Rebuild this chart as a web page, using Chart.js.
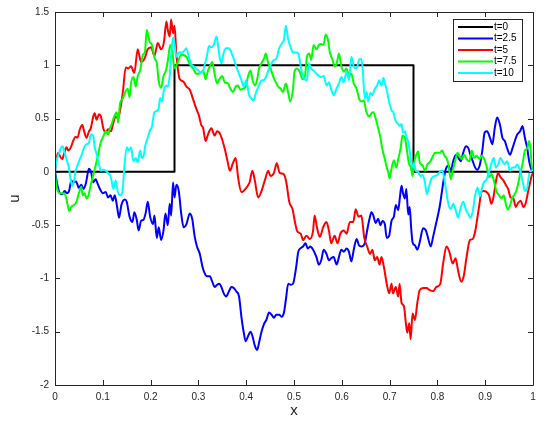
<!DOCTYPE html>
<html><head><meta charset="utf-8">
<script src="https://cdn.jsdelivr.net/npm/chart.js@4.4.1/dist/chart.umd.min.js"></script>
<style>html,body{margin:0;padding:0;background:#fff;}#c{display:block;}</style>
</head><body>
<canvas id="c" width="546" height="426"></canvas>
<script>
// ---- data (x, u) ----
const seriesLabels = ['t=0','t=2.5','t=5','t=7.5','t=10'];
const xTickValues = [0,0.1,0.2,0.3,0.4,0.5,0.6,0.7,0.8,0.9,1];
const yTickValues = [-2,-1.5,-1,-0.5,0,0.5,1,1.5];

const uT0 = [[0,0],[0.25,0],[0.25,1],[0.75,1],[0.75,0],[1,0]];

const uT25 = [[0,0],[0.004,-0.1],[0.009,-0.19],[0.015,-0.21],[0.02,-0.18],[0.025,-0.2],[0.03,-0.17],[0.034,-0.08],[0.038,-0.1],[0.044,-0.09],[0.05,-0.15],[0.055,-0.12],[0.06,-0.16],[0.065,-0.1],[0.071,0.03],[0.076,-0.01],[0.08,-0.1],[0.085,-0.07],[0.09,-0.12],[0.095,-0.17],[0.1,-0.2],[0.106,-0.19],[0.111,-0.24],[0.116,-0.22],[0.121,-0.27],[0.125,-0.22],[0.13,-0.33],[0.134,-0.43],[0.139,-0.31],[0.146,-0.26],[0.15,-0.28],[0.156,-0.42],[0.162,-0.47],[0.166,-0.38],[0.171,-0.45],[0.175,-0.55],[0.18,-0.46],[0.185,-0.45],[0.19,-0.38],[0.194,-0.28],[0.199,-0.42],[0.205,-0.49],[0.208,-0.41],[0.213,-0.62],[0.217,-0.52],[0.222,-0.64],[0.227,-0.55],[0.231,-0.39],[0.236,-0.5],[0.24,-0.3],[0.243,-0.41],[0.247,-0.1],[0.25,-0.24],[0.254,-0.12],[0.259,-0.18],[0.264,-0.39],[0.269,-0.52],[0.275,-0.49],[0.282,-0.39],[0.287,-0.44],[0.292,-0.6],[0.297,-0.7],[0.303,-0.77],[0.308,-0.88],[0.313,-0.95],[0.318,-0.98],[0.324,-0.98],[0.329,-1.03],[0.334,-1.08],[0.339,-1.06],[0.344,-1.05],[0.348,-1.08],[0.353,-1.14],[0.358,-1.17],[0.364,-1.12],[0.369,-1.08],[0.374,-1.09],[0.379,-1.12],[0.385,-1.17],[0.39,-1.36],[0.395,-1.51],[0.399,-1.59],[0.404,-1.54],[0.409,-1.5],[0.413,-1.54],[0.418,-1.63],[0.423,-1.67],[0.427,-1.6],[0.432,-1.5],[0.437,-1.43],[0.442,-1.39],[0.448,-1.32],[0.453,-1.34],[0.458,-1.37],[0.463,-1.34],[0.469,-1.34],[0.474,-1.36],[0.479,-1.32],[0.483,-1.2],[0.488,-1.05],[0.493,-1.06],[0.498,-1.05],[0.504,-0.91],[0.509,-0.75],[0.513,-0.72],[0.519,-0.7],[0.524,-0.67],[0.529,-0.72],[0.534,-0.7],[0.54,-0.73],[0.547,-0.8],[0.552,-0.87],[0.557,-0.83],[0.562,-0.73],[0.568,-0.77],[0.573,-0.83],[0.578,-0.81],[0.583,-0.8],[0.589,-0.87],[0.594,-0.8],[0.599,-0.73],[0.604,-0.75],[0.61,-0.72],[0.615,-0.75],[0.62,-0.84],[0.625,-0.73],[0.631,-0.63],[0.636,-0.69],[0.641,-0.7],[0.648,-0.67],[0.653,-0.55],[0.658,-0.44],[0.662,-0.38],[0.666,-0.41],[0.671,-0.48],[0.676,-0.44],[0.681,-0.5],[0.685,-0.46],[0.69,-0.49],[0.694,-0.62],[0.699,-0.6],[0.704,-0.46],[0.709,-0.42],[0.713,-0.31],[0.718,-0.36],[0.722,-0.22],[0.725,-0.13],[0.728,-0.2],[0.732,-0.25],[0.735,-0.16],[0.739,-0.4],[0.742,-0.33],[0.745,-0.52],[0.748,-0.66],[0.753,-0.69],[0.758,-0.73],[0.763,-0.66],[0.77,-0.53],[0.776,-0.55],[0.781,-0.63],[0.786,-0.7],[0.791,-0.61],[0.797,-0.49],[0.801,-0.41],[0.805,-0.32],[0.809,-0.2],[0.814,-0.05],[0.818,0.03],[0.823,0.06],[0.828,0.01],[0.833,0.1],[0.839,0.16],[0.844,0.13],[0.849,0.1],[0.854,0.18],[0.86,0.24],[0.865,0.22],[0.869,0.16],[0.874,0.1],[0.879,0.04],[0.883,0.02],[0.889,0.07],[0.894,0.2],[0.899,0.37],[0.904,0.38],[0.91,0.32],[0.915,0.26],[0.92,0.41],[0.925,0.51],[0.931,0.44],[0.936,0.32],[0.941,0.29],[0.946,0.22],[0.952,0.16],[0.957,0.22],[0.962,0.29],[0.967,0.35],[0.973,0.38],[0.978,0.43],[0.983,0.32],[0.988,0.22],[0.992,0.1],[0.997,0.02],[1,0.01]];

const uT5 = [[0,0],[0.003,0.12],[0.007,0.18],[0.01,0.15],[0.015,0.12],[0.019,0.17],[0.024,0.23],[0.028,0.2],[0.033,0.23],[0.038,0.29],[0.043,0.33],[0.047,0.32],[0.052,0.4],[0.057,0.44],[0.061,0.38],[0.066,0.32],[0.071,0.38],[0.075,0.41],[0.08,0.52],[0.083,0.55],[0.087,0.49],[0.092,0.54],[0.096,0.52],[0.101,0.41],[0.106,0.37],[0.111,0.4],[0.117,0.38],[0.122,0.46],[0.127,0.52],[0.132,0.5],[0.137,0.6],[0.142,0.75],[0.148,0.98],[0.153,0.97],[0.159,0.99],[0.166,0.93],[0.173,1.15],[0.18,1.03],[0.187,1.06],[0.194,1.15],[0.201,1.17],[0.208,1.09],[0.215,1.21],[0.222,1.15],[0.228,1.22],[0.233,1.41],[0.236,1.33],[0.24,1.27],[0.243,1.43],[0.247,1.3],[0.25,1.37],[0.254,1.1],[0.261,0.87],[0.268,0.85],[0.275,0.8],[0.282,0.77],[0.289,0.68],[0.295,0.6],[0.301,0.53],[0.306,0.44],[0.31,0.41],[0.315,0.29],[0.32,0.35],[0.327,0.41],[0.334,0.34],[0.339,0.38],[0.346,0.35],[0.355,0.22],[0.36,0.12],[0.366,0.01],[0.372,0.08],[0.378,0.13],[0.383,-0.05],[0.39,-0.19],[0.4,-0.15],[0.407,-0.1],[0.413,0.01],[0.418,-0.08],[0.425,-0.24],[0.432,-0.18],[0.439,-0.08],[0.446,0.01],[0.451,-0.04],[0.458,-0.01],[0.464,0.08],[0.47,-0.01],[0.478,-0.02],[0.484,-0.1],[0.49,-0.28],[0.497,-0.35],[0.502,-0.47],[0.507,-0.56],[0.514,-0.58],[0.519,-0.64],[0.526,-0.6],[0.533,-0.63],[0.54,-0.55],[0.543,-0.41],[0.548,-0.52],[0.554,-0.61],[0.561,-0.52],[0.568,-0.47],[0.573,-0.55],[0.578,-0.67],[0.585,-0.6],[0.591,-0.67],[0.597,-0.58],[0.604,-0.55],[0.61,-0.58],[0.617,-0.47],[0.624,-0.47],[0.629,-0.35],[0.635,-0.42],[0.641,-0.41],[0.647,-0.62],[0.653,-0.7],[0.659,-0.77],[0.664,-0.73],[0.669,-0.83],[0.674,-0.8],[0.679,-0.87],[0.683,-0.8],[0.688,-0.89],[0.694,-1.05],[0.699,-1.14],[0.704,-1.05],[0.707,-1.14],[0.713,-1.08],[0.718,-1.17],[0.721,-1.05],[0.725,-1.23],[0.73,-1.26],[0.734,-1.42],[0.737,-1.51],[0.741,-1.42],[0.744,-1.57],[0.748,-1.33],[0.753,-1.39],[0.758,-1.23],[0.763,-1.11],[0.77,-1.09],[0.777,-1.09],[0.784,-1.11],[0.791,-1.12],[0.798,-1.08],[0.806,-1.05],[0.812,-0.86],[0.819,-0.7],[0.825,-0.75],[0.832,-0.86],[0.838,-0.81],[0.843,-0.92],[0.85,-1.03],[0.855,-0.98],[0.861,-0.8],[0.868,-0.64],[0.874,-0.63],[0.879,-0.56],[0.883,-0.45],[0.889,-0.27],[0.892,-0.19],[0.897,-0.18],[0.903,-0.19],[0.908,-0.22],[0.913,-0.3],[0.918,-0.22],[0.922,-0.1],[0.927,-0.01],[0.932,-0.05],[0.938,-0.08],[0.944,-0.13],[0.948,-0.16],[0.953,-0.24],[0.959,-0.25],[0.964,-0.33],[0.969,-0.29],[0.974,-0.27],[0.98,-0.33],[0.985,-0.29],[0.99,-0.18],[0.994,-0.1],[0.997,-0.04],[1,-0.01]];

const uT75 = [[0,0],[0.003,-0.13],[0.006,-0.18],[0.011,-0.2],[0.017,-0.2],[0.022,-0.22],[0.026,-0.3],[0.03,-0.37],[0.034,-0.33],[0.04,-0.31],[0.045,-0.28],[0.05,-0.2],[0.055,-0.14],[0.058,-0.22],[0.062,-0.2],[0.066,-0.25],[0.07,-0.22],[0.075,-0.12],[0.08,-0.03],[0.085,0.06],[0.09,0.16],[0.096,0.28],[0.101,0.33],[0.106,0.38],[0.111,0.35],[0.115,0.41],[0.118,0.44],[0.124,0.52],[0.129,0.56],[0.132,0.46],[0.136,0.64],[0.142,0.69],[0.148,0.76],[0.152,0.78],[0.156,0.7],[0.159,0.83],[0.164,0.89],[0.169,0.8],[0.173,0.9],[0.178,0.95],[0.184,1.1],[0.188,1.12],[0.192,1.33],[0.198,1.22],[0.203,1.19],[0.208,1.07],[0.213,1.02],[0.217,0.85],[0.222,0.79],[0.227,0.9],[0.232,0.95],[0.236,1.04],[0.241,1.19],[0.245,1.14],[0.25,0.97],[0.257,1.03],[0.264,1.1],[0.275,1.08],[0.282,1.01],[0.289,0.97],[0.296,0.92],[0.302,0.92],[0.31,0.95],[0.315,0.87],[0.32,0.95],[0.325,1.0],[0.329,1.03],[0.334,0.92],[0.339,0.83],[0.344,0.87],[0.35,0.9],[0.355,0.84],[0.362,0.83],[0.367,0.78],[0.372,0.75],[0.378,0.8],[0.383,0.81],[0.388,0.77],[0.393,0.78],[0.399,0.8],[0.404,0.9],[0.409,0.95],[0.413,0.87],[0.418,0.81],[0.423,0.87],[0.427,0.97],[0.432,1.02],[0.437,1.06],[0.441,1.11],[0.446,1.02],[0.451,0.97],[0.456,0.9],[0.462,0.84],[0.467,0.8],[0.472,0.78],[0.477,0.75],[0.483,0.83],[0.488,0.74],[0.492,0.66],[0.498,0.78],[0.501,0.94],[0.506,0.97],[0.512,0.94],[0.518,0.87],[0.523,0.9],[0.527,1.08],[0.532,1.11],[0.536,1.05],[0.541,1.19],[0.547,1.15],[0.552,1.19],[0.557,1.2],[0.562,1.19],[0.566,1.29],[0.571,1.24],[0.575,1.12],[0.58,1.06],[0.585,0.99],[0.59,1.03],[0.594,1.11],[0.599,0.99],[0.604,0.94],[0.61,0.97],[0.615,0.9],[0.62,0.92],[0.625,0.83],[0.631,0.78],[0.636,0.69],[0.641,0.66],[0.646,0.67],[0.651,0.57],[0.657,0.52],[0.662,0.55],[0.666,0.56],[0.671,0.5],[0.676,0.41],[0.68,0.34],[0.685,0.21],[0.69,0.12],[0.694,0.04],[0.697,0.0],[0.7,-0.06],[0.704,0.03],[0.709,0.11],[0.714,0.04],[0.718,0.12],[0.723,0.22],[0.727,0.34],[0.732,0.32],[0.735,0.24],[0.741,0.07],[0.744,0.05],[0.748,-0.04],[0.751,0.08],[0.755,0.15],[0.76,0.19],[0.763,0.09],[0.769,0.06],[0.774,0.01],[0.779,0.07],[0.784,0.09],[0.79,0.14],[0.795,0.18],[0.8,0.18],[0.805,0.18],[0.81,0.2],[0.815,0.15],[0.82,0.12],[0.823,0.07],[0.828,-0.07],[0.832,0.01],[0.837,0.1],[0.842,0.18],[0.846,0.15],[0.851,0.12],[0.856,0.16],[0.861,0.12],[0.867,0.1],[0.872,0.2],[0.877,0.13],[0.882,0.15],[0.888,0.12],[0.893,0.15],[0.897,0.13],[0.903,0.05],[0.908,-0.05],[0.913,-0.02],[0.918,-0.08],[0.924,-0.19],[0.929,-0.22],[0.934,-0.25],[0.939,-0.22],[0.944,-0.32],[0.948,-0.35],[0.953,-0.3],[0.957,-0.24],[0.962,-0.21],[0.967,-0.15],[0.973,-0.02],[0.978,0.07],[0.983,0.2],[0.988,0.22],[0.992,0.29],[0.995,0.2],[0.997,0.07],[1,0.01]];

const uT10 = [[0,0],[0.003,0.1],[0.008,0.17],[0.013,0.23],[0.016,0.24],[0.019,0.2],[0.024,0.12],[0.029,0.04],[0.033,-0.08],[0.036,-0.13],[0.04,-0.08],[0.043,0.01],[0.047,0.06],[0.052,0.12],[0.055,0.15],[0.061,0.23],[0.066,0.26],[0.071,0.27],[0.075,0.35],[0.08,0.34],[0.083,0.23],[0.087,0.17],[0.092,0.07],[0.096,0.01],[0.101,0.02],[0.106,0.01],[0.111,-0.01],[0.117,-0.05],[0.122,-0.16],[0.127,-0.08],[0.131,-0.18],[0.136,-0.22],[0.141,-0.19],[0.145,0.04],[0.15,0.23],[0.155,0.2],[0.159,0.23],[0.164,0.1],[0.169,0.13],[0.173,0.09],[0.178,0.2],[0.182,0.13],[0.186,0.16],[0.189,0.25],[0.194,0.32],[0.198,0.38],[0.203,0.43],[0.208,0.56],[0.213,0.57],[0.217,0.6],[0.22,0.69],[0.224,0.66],[0.227,0.75],[0.233,0.81],[0.236,0.8],[0.24,0.9],[0.243,1.1],[0.247,1.26],[0.25,1.2],[0.254,1.08],[0.259,1.12],[0.264,1.12],[0.269,1.13],[0.275,1.16],[0.28,1.08],[0.285,1.01],[0.29,0.99],[0.295,0.97],[0.3,0.95],[0.305,0.93],[0.31,0.95],[0.314,1.02],[0.318,1.09],[0.322,1.18],[0.327,1.17],[0.332,1.19],[0.338,1.27],[0.341,1.19],[0.344,1.09],[0.348,1.02],[0.353,1.12],[0.358,1.16],[0.364,1.16],[0.369,1.12],[0.374,1.06],[0.379,0.99],[0.385,0.92],[0.39,0.86],[0.395,0.8],[0.4,0.86],[0.406,0.72],[0.411,0.69],[0.415,0.67],[0.421,0.75],[0.427,0.81],[0.432,0.86],[0.437,0.86],[0.442,0.9],[0.448,0.97],[0.453,1.02],[0.458,1.05],[0.463,1.06],[0.469,1.16],[0.474,1.2],[0.479,1.24],[0.483,1.37],[0.488,1.24],[0.493,1.17],[0.498,1.12],[0.504,1.12],[0.509,1.11],[0.513,1.02],[0.517,0.92],[0.522,0.87],[0.527,0.86],[0.531,1.02],[0.536,0.97],[0.541,0.95],[0.547,0.92],[0.552,0.9],[0.557,0.89],[0.562,0.9],[0.568,0.81],[0.573,0.84],[0.578,0.77],[0.583,0.72],[0.589,0.78],[0.594,0.83],[0.599,0.89],[0.604,0.84],[0.61,0.94],[0.615,0.86],[0.62,1.08],[0.625,0.99],[0.631,0.97],[0.636,1.05],[0.641,1.06],[0.644,0.95],[0.648,0.69],[0.652,0.75],[0.655,0.66],[0.66,0.74],[0.664,0.72],[0.669,0.78],[0.674,0.81],[0.678,0.86],[0.683,0.81],[0.687,0.88],[0.69,0.83],[0.694,0.77],[0.697,0.7],[0.701,0.62],[0.705,0.57],[0.708,0.56],[0.711,0.5],[0.715,0.46],[0.718,0.45],[0.721,0.43],[0.725,0.45],[0.728,0.37],[0.732,0.38],[0.735,0.33],[0.739,0.28],[0.742,0.2],[0.746,0.07],[0.749,0.04],[0.751,0.08],[0.755,0.01],[0.76,0.0],[0.764,-0.04],[0.769,-0.03],[0.774,-0.1],[0.778,-0.21],[0.783,-0.13],[0.788,-0.06],[0.793,-0.04],[0.8,-0.03],[0.805,0.0],[0.81,0.01],[0.814,-0.05],[0.818,-0.17],[0.823,-0.3],[0.828,-0.35],[0.833,-0.3],[0.839,-0.37],[0.843,-0.43],[0.849,-0.33],[0.854,-0.28],[0.86,-0.36],[0.865,-0.4],[0.869,-0.43],[0.874,-0.37],[0.879,-0.22],[0.884,-0.15],[0.889,-0.23],[0.893,-0.16],[0.897,-0.1],[0.903,-0.07],[0.908,0.0],[0.913,0.08],[0.918,0.13],[0.922,0.04],[0.927,0.07],[0.932,0.13],[0.936,0.1],[0.941,0.07],[0.946,0.1],[0.952,0.01],[0.957,0.04],[0.962,0.04],[0.967,0.07],[0.973,0.01],[0.978,-0.08],[0.983,-0.18],[0.988,-0.15],[0.992,-0.02],[0.997,0.01],[1,0.02]];

// ---- styling ----
const seriesData = [uT0, uT25, uT5, uT75, uT10];
const seriesColors = ['#000000', '#0000ff', '#ff0000', '#00ff00', '#00ffff'];
const FONT = '"Liberation Sans", Arial, Helvetica, sans-serif';
const AXIS_COLOR = '#262626';

const datasets = seriesData.map((pts, i) => ({
  label: seriesLabels[i],
  data: pts.map(p => ({x: p[0], y: p[1]})),
  borderColor: seriesColors[i],
  backgroundColor: seriesColors[i],
  borderWidth: 2,
  pointRadius: 0,
  fill: false,
  tension: 0,
  cubicInterpolationMode: i === 0 ? 'default' : 'monotone',
  borderJoinStyle: 'round',
  order: seriesData.length - i
}));

const fmt = v => String(Math.round(v * 10) / 10);

const framePlugin = {
  id: 'frame',
  afterDraw(chart) {
    const {ctx, chartArea: a, scales: {x, y}} = chart;
    ctx.save();
    ctx.strokeStyle = AXIS_COLOR;
    ctx.lineWidth = 1;
    ctx.beginPath();
    ctx.rect(Math.round(a.left) + 0.5, Math.round(a.top) + 0.5, Math.round(a.right - a.left), Math.round(a.bottom - a.top));
    ctx.stroke();
    const tl = 5;
    ctx.beginPath();
    xTickValues.forEach(v => {
      const px = Math.round(x.getPixelForValue(v)) + 0.5;
      ctx.moveTo(px, a.bottom); ctx.lineTo(px, a.bottom - tl);
      ctx.moveTo(px, a.top); ctx.lineTo(px, a.top + tl);
    });
    yTickValues.forEach(v => {
      const py = Math.round(y.getPixelForValue(v)) + 0.5;
      ctx.moveTo(a.left, py); ctx.lineTo(a.left + tl, py);
      ctx.moveTo(a.right, py); ctx.lineTo(a.right - tl, py);
    });
    ctx.stroke();

    // legend box (top right, inside axes)
    const lx = 453, ly = 19, lw = 69, lh = 62;
    ctx.fillStyle = '#fff';
    ctx.fillRect(lx, ly, lw, lh);
    ctx.strokeStyle = AXIS_COLOR;
    ctx.strokeRect(lx + 0.5, ly + 0.5, lw, lh);
    chart.data.datasets.forEach((ds, i) => {
      const yy = ly + 8 + i * 11.5;
      ctx.strokeStyle = ds.borderColor;
      ctx.lineWidth = 2;
      ctx.beginPath();
      ctx.moveTo(lx + 5, yy); ctx.lineTo(lx + 40, yy);
      ctx.stroke();
      ctx.fillStyle = '#000';
      ctx.font = '10px ' + FONT;
      ctx.textBaseline = 'middle';
      ctx.textAlign = 'left';
      ctx.fillText(ds.label, lx + 41, yy);
    });
    ctx.restore();
  }
};

new Chart(document.getElementById('c'), {
  type: 'line',
  data: {datasets},
  options: {
    responsive: false,
    animation: false,
    events: [],
    layout: {padding: {top: 9, right: 13, left: 0, bottom: 0}},
    plugins: {legend: {display: false}, tooltip: {enabled: false}},
    scales: {
      x: {
        type: 'linear', min: 0, max: 1,
        grid: {display: false, drawTicks: false},
        border: {display: false},
        afterBuildTicks: s => { s.ticks = xTickValues.map(v => ({value: v})); },
        ticks: {callback: fmt, color: AXIS_COLOR, font: {family: FONT, size: 10}, padding: 6, maxRotation: 0, autoSkip: false},
        title: {display: true, text: 'x', color: AXIS_COLOR, font: {family: FONT, size: 15}, padding: {top: 0, bottom: 6}},
        afterFit: s => { s.height = 41; }
      },
      y: {
        type: 'linear', min: -2, max: 1.5,
        grid: {display: false, drawTicks: false},
        border: {display: false},
        afterBuildTicks: s => { s.ticks = yTickValues.map(v => ({value: v})); },
        ticks: {callback: fmt, color: AXIS_COLOR, font: {family: FONT, size: 10}, padding: 6, autoSkip: false},
        title: {display: true, text: 'u', color: AXIS_COLOR, font: {family: FONT, size: 15}, padding: {top: 6, bottom: 0}},
        afterFit: s => { s.width = 55; }
      }
    }
  },
  plugins: [framePlugin]
});
</script>
</body></html>
